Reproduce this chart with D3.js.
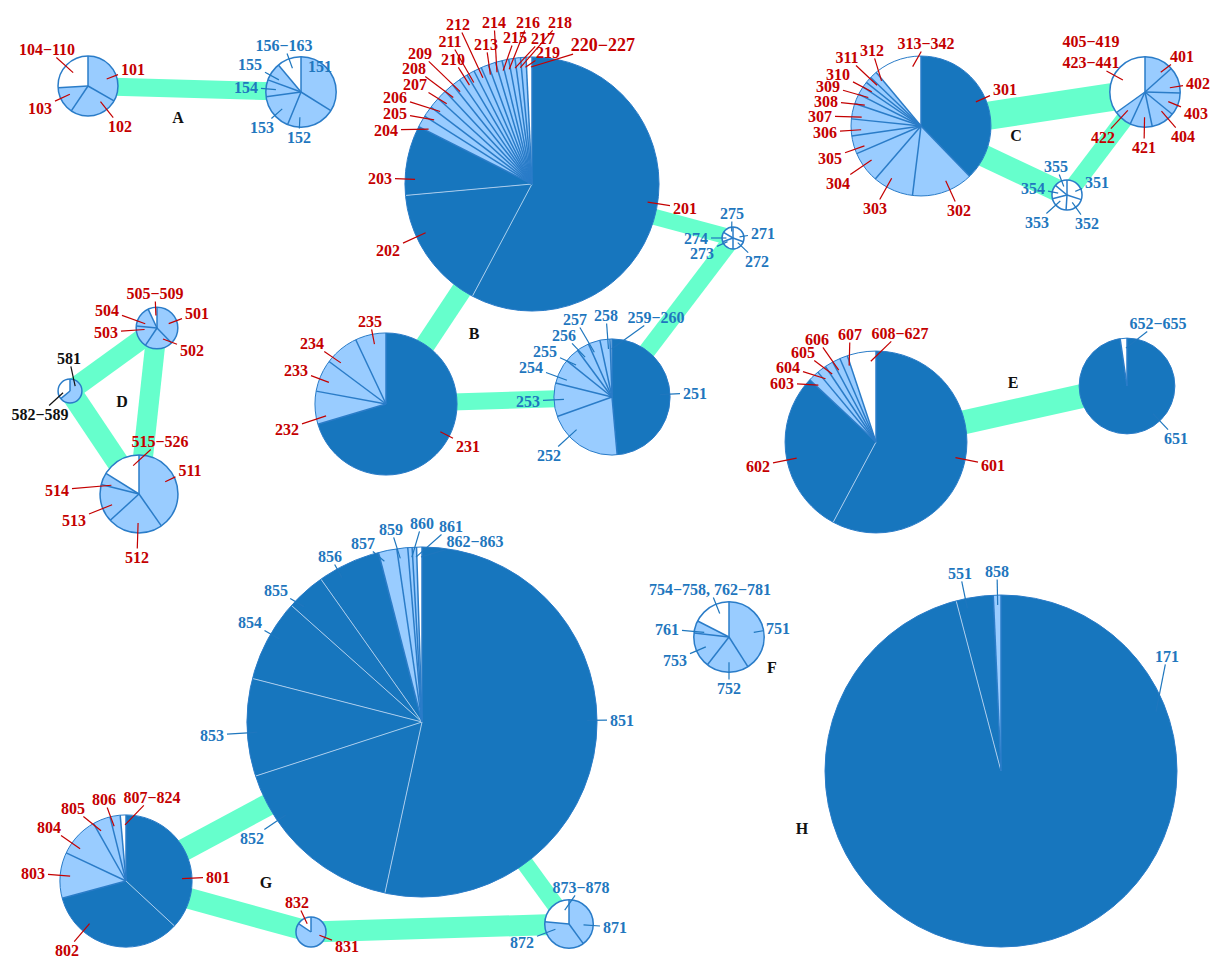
<!DOCTYPE html>
<html>
<head>
<meta charset="utf-8">
<script src="https://cdn.jsdelivr.net/npm/d3@7"></script>
<style>
  html, body { margin: 0; background: #ffffff; }
  svg text { font-family: "Liberation Serif", "Times New Roman", serif; font-weight: bold; }
</style>
</head>
<body>
<svg id="chart" width="1210" height="959"></svg>
<script>
// ---------- data: slices per pie as [name, share %, kind] (d = dark, l = light, w = other) ----------
const M = "\u2212";
const pieA1 = [["101", 33.3, "l"], ["102", 26.1, "l"], ["103", 14.7, "l"], ["104" + M + "110", 25.9, "w"]];
const pieA2 = [["151", 33.9, "l"], ["152", 22.3, "l"], ["153", 16.6, "l"], ["154", 7.8, "l"], ["155", 8.3, "l"], ["156" + M + "163", 11.1, "w"]];
const pieB1 = [["201", 57.8, "d"], ["202", 15.8, "d"], ["203", 8.9, "d"],
  ["204", 1.5, "l"], ["205", 1.4, "l"], ["206", 1.4, "l"], ["207", 1.25, "l"], ["208", 1.25, "l"],
  ["209", 1.1, "l"], ["210", 1.1, "l"], ["211", 1.0, "l"], ["212", 1.0, "l"], ["213", 0.95, "l"],
  ["214", 0.95, "l"], ["215", 0.85, "l"], ["216", 0.85, "l"], ["217", 0.8, "l"], ["218", 0.7, "l"],
  ["219", 0.7, "l"], ["220" + M + "227", 0.75, "w"]];
const pieB2 = [["231", 70.4, "d"], ["232", 7.5, "l"], ["233", 7.3, "l"], ["234", 7.8, "l"], ["235", 7.0, "l"]];
const pieB3 = [["251", 48.6, "d"], ["252", 21.0, "l"], ["253", 9.3, "l"], ["254", 6.9, "l"], ["255", 4.1, "l"],
  ["256", 3.5, "l"], ["257", 3.3, "l"], ["258", 2.8, "l"], ["259" + M + "260", 0.55, "w"]];
const pieB4 = [["271", 30.5, "w"], ["272", 19.5, "w"], ["273", 19.5, "w"], ["274", 14, "w"], ["275", 16.5, "w"]];
const pieC1 = [["301", 37.8, "d"], ["302", 14.2, "l"], ["303", 9.4, "l"], ["304", 7.2, "l"], ["305", 4.2, "l"],
  ["306", 3.9, "l"], ["307", 3.6, "l"], ["308", 2.3, "l"], ["309", 1.9, "l"], ["310", 1.3, "l"],
  ["311", 1.5, "l"], ["312", 1.7, "l"], ["313" + M + "342", 11.1, "w"]];
const pieC2 = [["401", 13.4, "l"], ["402", 12.0, "l"], ["403", 10.5, "l"], ["404", 10.8, "l"],
  ["421", 10.2, "l"], ["422", 8.2, "l"], ["405" + M + "419\n423" + M + "441", 34.9, "w"]];
const pieC3 = [["351", 30, "w"], ["352", 21, "w"], ["353", 20, "w"], ["354", 15, "w"], ["355", 14, "w"]];
const pieD1 = [["501", 37.7, "l"], ["502", 21.7, "l"], ["503", 17.1, "l"], ["504", 16.5, "l"], ["505" + M + "509", 7.0, "w"]];
const pieD2 = [["581", 64, "l"], ["582" + M + "589", 36, "w"]];
const pieD3 = [["511", 40.3, "l"], ["512", 22.9, "l"], ["513", 15.7, "l"], ["514", 5.0, "l"], ["515" + M + "526", 16.1, "w"]];
const pieE1 = [["601", 57.8, "d"], ["602", 29.2, "d"], ["603", 1.95, "l"], ["604", 1.65, "l"], ["605", 1.5, "l"],
  ["606", 1.4, "l"], ["607", 1.4, "l"], ["608" + M + "627", 5.1, "w"]];
const pieE2 = [["651", 97.7, "d"], ["652" + M + "655", 2.3, "w"]];
const pieF = [["751", 41.0, "l"], ["752", 19.5, "l"], ["753", 16.3, "l"], ["761", 5.7, "l"], ["754" + M + "758, 762" + M + "781", 17.5, "w"]];
const pieG1 = [["851", 53.4, "d"], ["852", 16.6, "d"], ["853", 9.0, "d"], ["854", 7.6, "d"], ["855", 3.6, "d"],
  ["856", 5.8, "d"], ["857", 1.7, "l"], ["859", 1.0, "l"], ["860", 0.4, "l"], ["861", 0.4, "l"], ["862" + M + "863", 0.5, "w"]];
const pieG2 = [["801", 36.9, "d"], ["802", 33.9, "d"], ["803", 11.2, "l"], ["804", 9.8, "l"], ["805", 4.3, "l"], ["806", 2.5, "l"], ["807" + M + "824", 1.4, "w"]];
const pieG3 = [["831", 84.4, "l"], ["832", 15.6, "w"]];
const pieG4 = [["871", 40, "l"], ["872", 36.4, "l"], ["873" + M + "878", 23.6, "w"]];
const pieH = [["171", 95.9, "d"], ["551", 3.4, "d"], ["858", 0.7, "l"]];

const pieIds = ["A1", "A2", "B1", "B2", "B3", "B4", "C1", "C2", "C3", "D1", "D2", "D3", "E1", "E2", "F", "G1", "G2", "G3", "G4", "H"];
const pieSlices = [pieA1, pieA2, pieB1, pieB2, pieB3, pieB4, pieC1, pieC2, pieC3, pieD1, pieD2, pieD3, pieE1, pieE2, pieF, pieG1, pieG2, pieG3, pieG4, pieH];
// pie totals (area ~ total)
const pieTotals = [29, 40, 521, 163, 109, 3.9, 158, 40, 7.3, 14, 4.6, 49, 267, 74, 40, 989, 141, 7.3, 19, 1000];
const labelColors = ["red", "blue", "red", "red", "blue", "blue", "red", "red", "blue", "red", "black", "red", "red", "blue", "blue", "blue", "red", "red", "blue", "blue"];

// links between pies: [from, to, weight]
const edgeLinks = [["A1", "A2", 18], ["B1", "B2", 20], ["B1", "B4", 16], ["B4", "B3", 17], ["B2", "B3", 17],
  ["C1", "C2", 28], ["C1", "C3", 22], ["C2", "C3", 17], ["D1", "D2", 20], ["D1", "D3", 20], ["D2", "D3", 22],
  ["E1", "E2", 24], ["G1", "G2", 22], ["G2", "G3", 21], ["G3", "G4", 21], ["G1", "G4", 17]];

const groupNames = ["A", "B", "C", "D", "E", "F", "G", "H"];

// ---------- layout ----------
const pieCenters = [[88, 86], [301, 92], [532, 184], [386, 404], [612, 397], [733, 238], [921, 126], [1145, 92], [1067, 195],
  [157, 328], [70, 391], [139, 494], [876, 442], [1127, 386], [729, 637], [422, 722], [126, 881], [311, 932], [569, 924], [1001, 771]];
const labelPositions = [
  [[133, 69], [120, 126], [40, 108], [47, 49]],
  [[320, 66], [299, 137], [262, 127], [246, 87], [250, 64], [284, 45]],
  [[685, 208], [388, 250], [380, 178], [386, 130], [395, 113], [395, 97], [415, 84], [414, 68], [420, 53], [453, 59],
   [450, 41], [458, 24], [486, 44], [494, 22], [515, 37], [528, 22], [543, 38], [560, 22], [548, 52], [603, 45]],
  [[468, 446], [287, 429], [296, 370], [312, 343], [370, 321]],
  [[695, 393], [549, 455], [528, 401], [531, 367], [545, 351], [564, 335], [575, 319], [606, 315], [656, 317]],
  [[763, 233], [757, 261], [702, 253], [696, 238], [732, 213]],
  [[1005, 89], [959, 210], [875, 208], [838, 183], [830, 158], [825, 132], [820, 116], [826, 101], [828, 86], [838, 74], [847, 57], [872, 50], [926, 43]],
  [[1182, 56], [1198, 83], [1196, 113], [1183, 136], [1144, 147], [1103, 137], [1091, 52]],
  [[1097, 182], [1087, 223], [1037, 222], [1033, 188], [1056, 166]],
  [[197, 313], [192, 350], [106, 332], [107, 310], [155, 293]],
  [[69, 358], [40, 414]],
  [[190, 470], [137, 557], [74, 520], [57, 490], [160, 441]],
  [[993, 465], [758, 466], [782, 383], [788, 367], [803, 352], [817, 339], [850, 334], [900, 333]],
  [[1176, 438], [1158, 323]],
  [[778, 628], [729, 688], [675, 660], [667, 629], [710, 589]],
  [[622, 720], [252, 838], [212, 735], [250, 622], [276, 590], [330, 556], [363, 543], [391, 529], [422, 523], [451, 526], [475, 541]],
  [[218, 877], [67, 950], [33, 873], [49, 827], [73, 808], [104, 799], [152, 797]],
  [[347, 946], [297, 902]],
  [[615, 927], [522, 942], [581, 887]],
  [[1167, 656], [960, 573], [997, 571]]
];
const groupLabelPos = [[178, 117], [474, 333], [1016, 135], [122, 401], [1013, 382], [772, 667], [266, 882], [802, 828]];
const emphasizedLabels = new Set(["220" + M + "227"]);

// ---------- drawing ----------
const svg = d3.select("#chart");
const rScale = d3.scaleSqrt().domain([0, 1000]).range([0, 176]);
const wScale = d3.scaleLinear().domain([0, 30]).range([0, 30]);
const pie = d3.pie().sort(null).value(d => d[1]);
const fills = { d: "#1776be", l: "#99ccff", w: "#ffffff" };
const inkColors = { red: "#c40000", blue: "#1f77be", black: "#111111" };
const edgeBlue = "#2a7cc8";
const softLine = "#a9cbec";
const TAU = Math.PI * 2;

const nodes = pieIds.map((id, i) => ({
  id,
  cx: pieCenters[i][0],
  cy: pieCenters[i][1],
  r: rScale(pieTotals[i]),
  arcs: pie(pieSlices[i]),
  labels: labelPositions[i],
  color: inkColors[labelColors[i]]
}));
const byId = new Map(nodes.map(n => [n.id, n]));

// links
svg.append("g").selectAll("line").data(edgeLinks).join("line")
  .attr("x1", d => byId.get(d[0]).cx).attr("y1", d => byId.get(d[0]).cy)
  .attr("x2", d => byId.get(d[1]).cx).attr("y2", d => byId.get(d[1]).cy)
  .attr("stroke", "#66ffcc")
  .attr("stroke-width", d => wScale(d[2]));

// pies
const pieGroups = svg.append("g").selectAll("g").data(nodes).join("g")
  .attr("transform", d => `translate(${d.cx},${d.cy})`);

pieGroups.each(function (n) {
  const g = d3.select(this);
  const arc = d3.arc().innerRadius(0).outerRadius(n.r);
  g.selectAll("path").data(n.arcs).join("path")
    .attr("d", arc)
    .attr("fill", a => fills[a.data[2]]);
  const k = n.arcs.length;
  const bothDark = (a, i) => n.arcs[(i - 1 + k) % k].data[2] === "d" && a.data[2] === "d";
  const dividers = n.arcs.map((a, i) => ({ a, soft: bothDark(a, i) }));
  dividers.sort((p, q) => (q.soft ? 1 : 0) - (p.soft ? 1 : 0));
  g.selectAll("line").data(dividers).join("line")
    .attr("x1", 0).attr("y1", 0)
    .attr("x2", d => n.r * Math.sin(d.a.startAngle))
    .attr("y2", d => -n.r * Math.cos(d.a.startAngle))
    .attr("stroke", d => d.soft ? softLine : edgeBlue)
    .attr("stroke-width", d => d.soft ? 1 : 1.5);
  const hasDark = n.arcs.some(a => a.data[2] === "d");
  g.append("circle").attr("r", n.r).attr("fill", "none")
    .attr("stroke", edgeBlue).attr("stroke-width", hasDark ? 1 : 1.5);
});

// wrap an angle difference into (-PI, PI]
function wrap(a) {
  while (a > Math.PI) a -= TAU;
  while (a <= -Math.PI) a += TAU;
  return a;
}

// slice labels with leader lines
const leaderLayer = svg.append("g");
const labelLayer = svg.append("g");
nodes.forEach(n => {
  n.arcs.forEach((a, i) => {
    const [lx, ly] = n.labels[i];
    const name = a.data[0];
    const size = emphasizedLabels.has(name) ? 18 : 16;
    const lines = name.split("\n");
    const gap = 21;
    const text = labelLayer.append("text")
      .attr("text-anchor", "middle")
      .attr("fill", n.color)
      .style("font-size", size + "px");
    let lastWidth = 0;
    lines.forEach((s, j) => {
      const yy = ly + (j - (lines.length - 1) / 2) * gap;
      const ts = text.append("tspan").attr("x", lx).attr("y", yy).attr("dy", "0.35em").text(s);
      lastWidth = ts.node().getComputedTextLength();
    });
    // target point: centre of the label's last line
    const tcx = lx;
    const tcy = ly + ((lines.length - 1) / 2) * gap;
    // leader starts inside the slice, on the side facing the label
    const span = a.endAngle - a.startAngle;
    const mid = (a.startAngle + a.endAngle) / 2;
    const toLabel = Math.atan2(tcx - n.cx, -(tcy - n.cy));
    const lim = span / 2 * 0.6;
    const ang = mid + Math.max(-lim, Math.min(lim, wrap(toLabel - mid)));
    const rs = n.r - Math.min(10, n.r * 0.4);
    const sx = n.cx + rs * Math.sin(ang);
    const sy = n.cy - rs * Math.cos(ang);
    const hw = lastWidth / 2 + 3;
    const hh = size * 0.34 + 3;
    const dx = sx - tcx, dy = sy - tcy;
    const t = Math.min(dx !== 0 ? hw / Math.abs(dx) : Infinity, dy !== 0 ? hh / Math.abs(dy) : Infinity);
    if (t < 1) {
      leaderLayer.append("line")
        .attr("x1", sx).attr("y1", sy)
        .attr("x2", tcx + dx * t).attr("y2", tcy + dy * t)
        .attr("stroke", n.color)
        .attr("stroke-width", 1.2);
    }
  });
});

// group letters
svg.append("g").selectAll("text").data(groupNames).join("text")
  .attr("x", (d, i) => groupLabelPos[i][0])
  .attr("y", (d, i) => groupLabelPos[i][1])
  .attr("dy", "0.35em")
  .attr("text-anchor", "middle")
  .attr("fill", "#111111")
  .style("font-size", "16px")
  .text(d => d);
</script>
</body>
</html>
